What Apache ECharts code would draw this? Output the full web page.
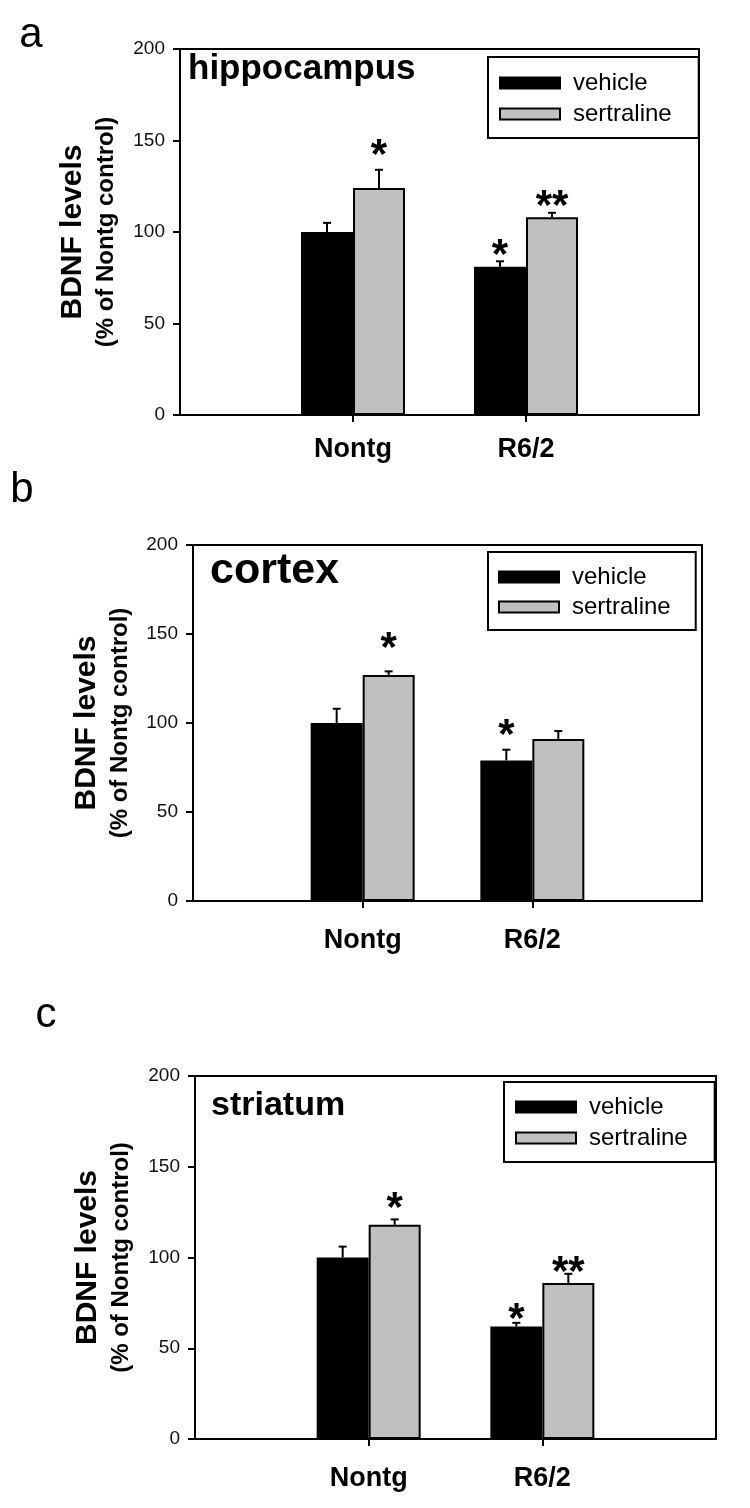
<!DOCTYPE html>
<html>
<head>
<meta charset="utf-8">
<script src="https://cdn.jsdelivr.net/npm/echarts@6/dist/echarts.min.js"></script>
<style>
html, body { margin: 0; padding: 0; background: #fff; }
#chart { width: 750px; height: 1508px; }
</style>
</head>
<body>
<div id="chart"></div>
<script>
// ---- data ----
const groups = ['', 'Nontg', 'R6/2', '']
const regions = ['hippocampus', 'cortex', 'striatum']
const panelLetters = ['a', 'b', 'c']
const treatments = ['vehicle', 'sertraline']

// BDNF, % of Nontg control (one row per panel)
const vehicle = [
  ['-', 100, 81, '-'],
  ['-', 100, 79, '-'],
  ['-', 100, 62, '-']
]
const sertraline = [
  ['-', 124, 108, '-'],
  ['-', 127, 91, '-'],
  ['-', 118, 86, '-']
]
// upper error (SEM)
const vehicleErr = [[0, 5, 3, 0], [0, 8, 6, 0], [0, 6, 2, 0]]
const sertralineErr = [[0, 10, 2.5, 0], [0, 2, 4.5, 0], [0, 3, 5, 0]]
// significance marks and the level (in %) they sit at
const vehicleStars = [['', '', '*', ''], ['', '', '*', ''], ['', '', '*', '']]
const vehicleStarAt = [[0, 0, 92, 0], [0, 0, 98, 0], [0, 0, 71, 0]]
const sertralineStars = [['', '*', '**', ''], ['', '*', '', ''], ['', '*', '**', '']]
const sertralineStarAt = [[0, 147, 119, 0], [0, 147, 0, 0], [0, 132, 97, 0]]

const FONT = '"Liberation Sans", Arial, sans-serif'
const BAR_W = 52
const STAR_SIZE = 42

const grids = [
  { left: 180, top: 49, width: 519, height: 366 },
  { left: 193, top: 545, width: 509, height: 356 },
  { left: 195, top: 1076, width: 521, height: 363 }
]
const titlePos = [
  { left: 188, top: 52, size: 35 },
  { left: 210, top: 550, size: 43 },
  { left: 211, top: 1089, size: 34 }
]
const legendPos = [
  { left: 488, top: 57, padding: [14, 27, 12, 11], gap: 7 },
  { left: 488, top: 552, padding: [13, 25, 11, 10], gap: 6 },
  { left: 504, top: 1082, padding: [13, 27, 12, 11], gap: 7 }
]
const nameGaps = [60, 59, 60]
const labelMargins = [21, 26, 26]
const letterPos = [[31, 35], [22, 490], [46, 1015]]

function errorBars(p, side, means, errs, stars, starAt) {
  const items = []
  const marks = []
  means.forEach((m, i) => {
    if (m === '-') return
    items.push([i, m, m + errs[i], starAt[i]])
    marks.push(stars[i])
  })
  return {
    type: 'custom',
    xAxisIndex: p,
    yAxisIndex: p,
    z: 5,
    data: items,
    renderItem(params, api) {
      const base = api.coord([api.value(0), api.value(1)])
      const top = api.coord([api.value(0), api.value(2)])
      const x = base[0] + side * BAR_W / 2
      const children = [
        { type: 'line', shape: { x1: x, y1: base[1], x2: x, y2: top[1] }, style: { stroke: '#000', lineWidth: 2 } },
        { type: 'line', shape: { x1: x - 4, y1: top[1], x2: x + 4, y2: top[1] }, style: { stroke: '#000', lineWidth: 2 } }
      ]
      const mark = marks[params.dataIndex]
      if (mark) {
        const s = api.coord([api.value(0), api.value(3)])
        children.push({
          type: 'text',
          x: x,
          y: s[1] + 10,
          style: {
            text: mark,
            fill: '#000',
            font: 'bold ' + STAR_SIZE + 'px ' + FONT,
            align: 'center',
            verticalAlign: 'middle'
          }
        })
      }
      return { type: 'group', children }
    }
  }
}

const option = {
  animation: false,
  backgroundColor: '#fff',
  textStyle: { fontFamily: FONT },
  grid: grids.map(g => Object.assign({ show: true, borderColor: '#000', borderWidth: 2 }, g)),
  title: regions.map((r, i) => ({
    text: r,
    left: titlePos[i].left,
    top: titlePos[i].top,
    padding: 0,
    textStyle: { fontSize: titlePos[i].size, fontWeight: 'bold', color: '#000', fontFamily: FONT }
  })),
  legend: legendPos.map(l => ({
    data: treatments,
    orient: 'vertical',
    left: l.left,
    top: l.top,
    padding: l.padding,
    itemGap: l.gap,
    itemWidth: 60,
    itemHeight: 11,
    icon: 'rect',
    selectedMode: false,
    borderColor: '#000',
    borderWidth: 2,
    borderRadius: 0,
    textStyle: { fontSize: 24, color: '#000', fontFamily: FONT, padding: [0, 0, 0, 8] }
  })),
  xAxis: grids.map((g, i) => ({
    type: 'category',
    gridIndex: i,
    data: groups,
    boundaryGap: false,
    axisLine: { lineStyle: { color: '#000', width: 2 } },
    axisTick: { length: 7, interval: idx => idx === 1 || idx === 2, lineStyle: { color: '#000', width: 2 } },
    axisLabel: { interval: 0, margin: labelMargins[i], fontSize: 27, fontWeight: 'bold', color: '#000', fontFamily: FONT },
    splitLine: { show: false }
  })),
  yAxis: grids.map((g, i) => ({
    type: 'value',
    gridIndex: i,
    min: 0,
    max: 200,
    interval: 50,
    name: '{a|BDNF levels}\n{b|(% of Nontg control)}',
    nameLocation: 'middle',
    nameRotate: 90,
    nameGap: nameGaps[i],
    nameTextStyle: {
      fontFamily: FONT,
      rich: {
        a: { fontSize: 30, fontWeight: 'bold', color: '#000', lineHeight: 38, fontFamily: FONT },
        b: { fontSize: 24, fontWeight: 'bold', color: '#000', lineHeight: 28, fontFamily: FONT }
      }
    },
    axisLine: { show: true, lineStyle: { color: '#000', width: 2 } },
    axisTick: { show: true, length: 7, lineStyle: { color: '#000', width: 2 } },
    axisLabel: { margin: 15, fontSize: 19, color: '#111', fontFamily: FONT },
    splitLine: { show: false }
  })),
  graphic: panelLetters.map((t, i) => ({
    type: 'text',
    x: letterPos[i][0],
    y: letterPos[i][1],
    style: { text: t, font: '42px ' + FONT, fill: '#000', align: 'center', verticalAlign: 'middle' }
  })),
  series: []
}

grids.forEach((g, p) => {
  option.series.push({
    name: 'vehicle',
    type: 'bar',
    xAxisIndex: p,
    yAxisIndex: p,
    barWidth: BAR_W,
    barGap: '0%',
    itemStyle: { color: '#000', borderColor: '#000', borderWidth: 2 },
    data: vehicle[p]
  })
  option.series.push({
    name: 'sertraline',
    type: 'bar',
    xAxisIndex: p,
    yAxisIndex: p,
    barWidth: BAR_W,
    barGap: '0%',
    itemStyle: { color: '#c0c0c0', borderColor: '#000', borderWidth: 2 },
    data: sertraline[p]
  })
  option.series.push(errorBars(p, -1, vehicle[p], vehicleErr[p], vehicleStars[p], vehicleStarAt[p]))
  option.series.push(errorBars(p, 1, sertraline[p], sertralineErr[p], sertralineStars[p], sertralineStarAt[p]))
})

const chart = echarts.init(document.getElementById('chart'))
chart.setOption(option)
</script>
</body>
</html>
